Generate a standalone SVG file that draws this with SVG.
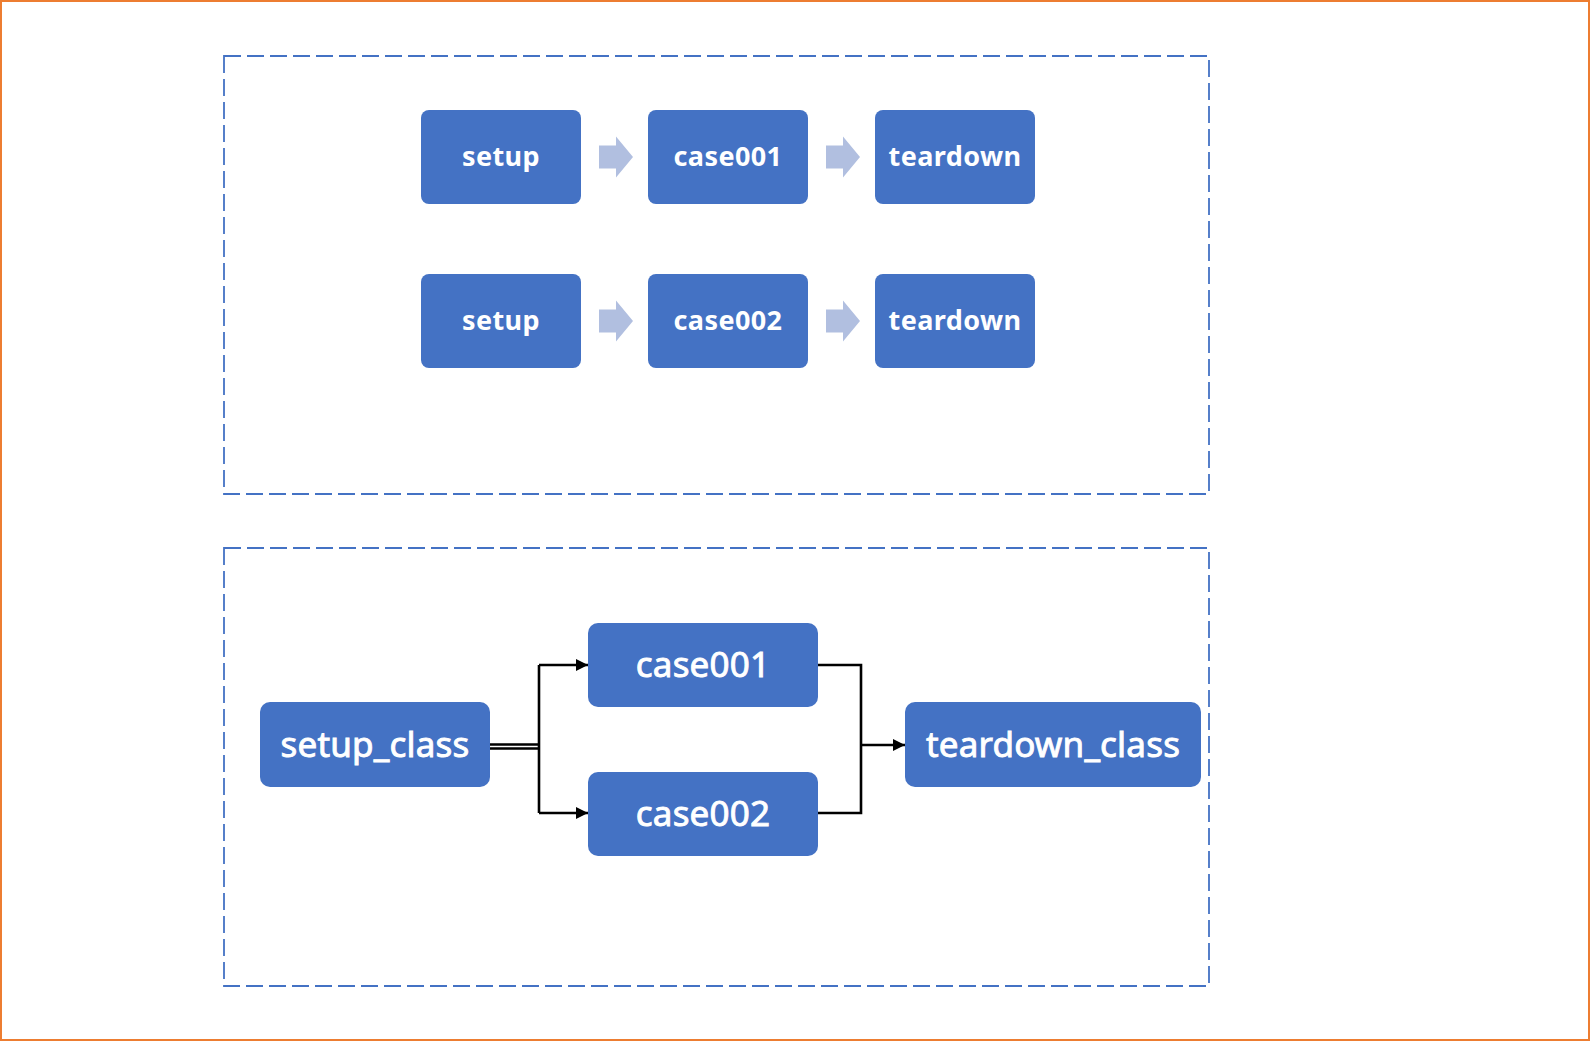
<svg xmlns="http://www.w3.org/2000/svg" width="1590" height="1041" viewBox="0 0 1590 1041">
<style>
.frame{fill:none;stroke:#4472C4;stroke-width:1.8;stroke-dasharray:17 6}
.box{fill:#4472C4}
.t1{fill:#fff;font-family:"Noto Sans","Open Sans","Liberation Sans",sans-serif;font-size:27px;font-weight:bold;letter-spacing:0.4px;text-anchor:middle}
.t2{fill:#fff;stroke:#fff;stroke-width:0.9px;font-family:"Noto Sans","Open Sans","Liberation Sans",sans-serif;font-size:35px;letter-spacing:0.2px;text-anchor:middle}
.blk{fill:#B1BFE0}
.ln{fill:none;stroke:#000;stroke-width:2.6}
</style>
<defs>
<marker id="ah" viewBox="0 0 12 12" refX="12" refY="6" markerWidth="12" markerHeight="12" markerUnits="userSpaceOnUse" orient="auto">
<path d="M0,0 L12,6 L0,12 Z" fill="#000"/>
</marker>
</defs>
<rect x="1" y="1" width="1588" height="1039" fill="#fff" stroke="#ED7D31" stroke-width="2"/>
<rect class="frame" x="224" y="56" width="985" height="438"/>
<rect class="frame" x="224" y="548" width="985" height="438"/>

<g id="setup1"><rect class="box" x="421" y="110" width="160" height="94" rx="8"/><text class="t1" x="501" y="166">setup</text></g>
<g id="case001a"><rect class="box" x="648" y="110" width="160" height="94" rx="8"/><text class="t1" x="728" y="166">case001</text></g>
<g id="teardown1"><rect class="box" x="875" y="110" width="160" height="94" rx="8"/><text class="t1" x="955" y="166">teardown</text></g>
<g id="setup2"><rect class="box" x="421" y="274" width="160" height="94" rx="8"/><text class="t1" x="501" y="330">setup</text></g>
<g id="case002a"><rect class="box" x="648" y="274" width="160" height="94" rx="8"/><text class="t1" x="728" y="330">case002</text></g>
<g id="teardown2"><rect class="box" x="875" y="274" width="160" height="94" rx="8"/><text class="t1" x="955" y="330">teardown</text></g>

<g id="setup_class"><rect class="box" x="260" y="702" width="230" height="85" rx="10"/><text class="t2" x="375" y="757">setup_class</text></g>
<g id="case001b"><rect class="box" x="588" y="623" width="230" height="84" rx="10"/><text class="t2" x="703" y="677">case001</text></g>
<g id="case002b"><rect class="box" x="588" y="772" width="230" height="84" rx="10"/><text class="t2" x="703" y="826">case002</text></g>
<g id="teardown_class"><rect class="box" x="905" y="702" width="296" height="85" rx="10"/><text class="t2" x="1053" y="757">teardown_class</text></g>

<g id="connectors">
<path class="blk" d="M599,145.5 H616 V136.5 L633,157 L616,177.5 V168.5 H599 Z"/>
<path class="blk" d="M826,145.5 H843 V136.5 L860,157 L843,177.5 V168.5 H826 Z"/>
<path class="blk" d="M599,309.5 H616 V300.5 L633,321 L616,341.5 V332.5 H599 Z"/>
<path class="blk" d="M826,309.5 H843 V300.5 L860,321 L843,341.5 V332.5 H826 Z"/>
<path class="ln" stroke-width="2" d="M490,744.5 H539 M490,748.5 H539"/>
<path class="ln" d="M539,665 V813"/>
<path class="ln" d="M539,665 H588" marker-end="url(#ah)"/>
<path class="ln" d="M539,813 H588" marker-end="url(#ah)"/>
<path class="ln" d="M818,665 H861 V813 H818"/>
<path class="ln" d="M861,745 H905" marker-end="url(#ah)"/>
</g>
</svg>
